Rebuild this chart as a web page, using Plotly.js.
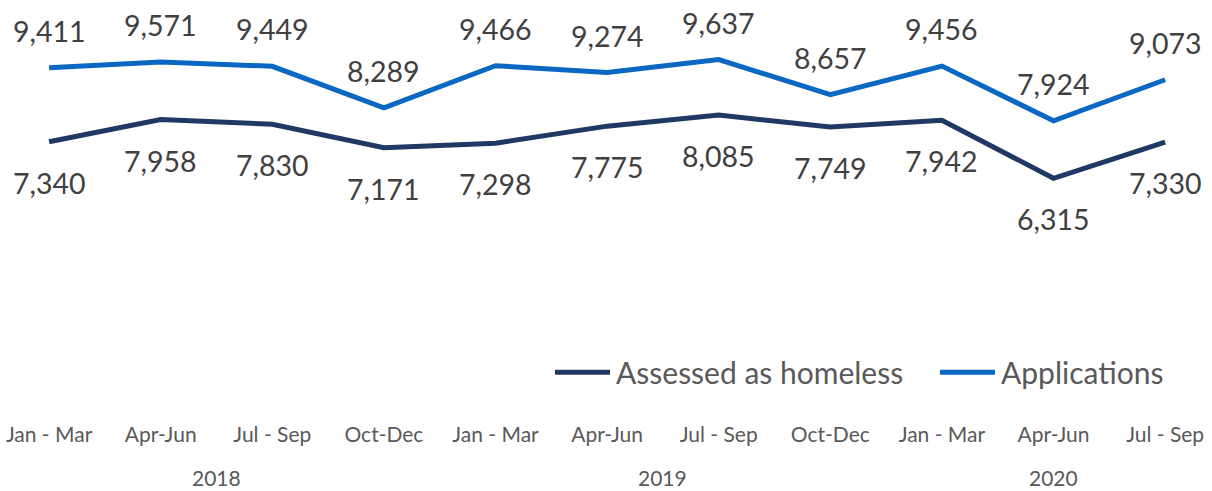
<!DOCTYPE html>
<html>
<head>
<meta charset="utf-8">
<script src="https://cdn.plot.ly/plotly-3.0.1.min.js"></script>
<style>
  body { margin: 0; background: #fff; }
  #chart { width: 1212px; height: 491px; }
</style>
</head>
<body>
<div id="chart"></div>
<script>
var quarters = ["Jan - Mar", "Apr-Jun", "Jul - Sep", "Oct-Dec", "Jan - Mar", "Apr-Jun", "Jul - Sep", "Oct-Dec", "Jan - Mar", "Apr-Jun", "Jul - Sep"];
var years = ["2018", "2018", "2018", "2018", "2019", "2019", "2019", "2019", "2020", "2020", "2020"];
var applications = [9411, 9571, 9449, 8289, 9466, 9274, 9637, 8657, 9456, 7924, 9073];
var homeless = [7340, 7958, 7830, 7171, 7298, 7775, 8085, 7749, 7942, 6315, 7330];

// unique category keys, shown with the quarter only
var periods = quarters.map(function (q, i) { return q + " " + years[i]; });

var labelFont = { family: "Lato, sans-serif", size: 28.5, color: "#404040" };

function fmt(v) { return v.toLocaleString("en-US"); }

var data = [
  {
    x: periods, y: homeless, name: "Assessed as homeless",
    type: "scatter", mode: "lines",
    line: { color: "#1F3864", width: 5 }
  },
  {
    x: periods, y: applications, name: "Applications",
    type: "scatter", mode: "lines",
    line: { color: "#0A67C2", width: 5 }
  }
];

var annotations = [];
var shapes = [];
periods.forEach(function (p, i) {
  annotations.push({
    x: p, y: applications[i], xref: "x", yref: "y",
    text: fmt(applications[i]), showarrow: false,
    yanchor: "middle", yshift: 37, font: labelFont
  });
  annotations.push({
    x: p, y: homeless[i], xref: "x", yref: "y",
    text: fmt(homeless[i]), showarrow: false,
    yanchor: "middle", yshift: -41, font: labelFont
  });
});

// year labels under the quarter ticks
var yearList = [];
years.forEach(function (y) { if (yearList.indexOf(y) < 0) yearList.push(y); });
yearList.forEach(function (y) {
  var idx = [];
  years.forEach(function (yy, i) { if (yy === y) idx.push(i); });
  var mid = (idx[0] + idx[idx.length - 1]) / 2;
  annotations.push({
    x: mid, y: -0.172, xref: "x", yref: "paper",
    text: y, showarrow: false, yanchor: "middle",
    font: { family: "Lato, sans-serif", size: 21, color: "#595959" }
  });
});

// legend drawn by hand so the line samples are as long as in the original
var legendX = [555, 940];
var legendY = 0.097;
data.forEach(function (tr, i) {
  var x0 = legendX[i] / 1212;
  shapes.push({
    type: "line", xref: "paper", yref: "paper",
    x0: x0, x1: x0 + 55 / 1212, y0: legendY, y1: legendY,
    line: { color: tr.line.color, width: 5 }
  });
  annotations.push({
    x: x0 + 59 / 1212, y: legendY, xref: "paper", yref: "paper",
    text: tr.name, showarrow: false, xanchor: "left", yanchor: "middle",
    font: { family: "Lato, sans-serif", size: 30, color: "#595959" }
  });
});

var layout = {
  width: 1212, height: 491,
  margin: { l: 0, r: 0, t: 20, b: 81 },
  paper_bgcolor: "#fff", plot_bgcolor: "#fff",
  showlegend: false,
  xaxis: {
    type: "category",
    range: [-0.44, 10.42],
    tickvals: periods, ticktext: quarters,
    tickfont: { family: "Lato, sans-serif", size: 21, color: "#595959" },
    ticklabelstandoff: 10,
    showgrid: false, zeroline: false, showline: false, ticks: ""
  },
  yaxis: {
    range: [-165, 10744],
    visible: false, showgrid: false, zeroline: false
  },
  shapes: shapes,
  annotations: annotations
};

Plotly.newPlot("chart", data, layout, { displayModeBar: false, staticPlot: true });
</script>
</body>
</html>
